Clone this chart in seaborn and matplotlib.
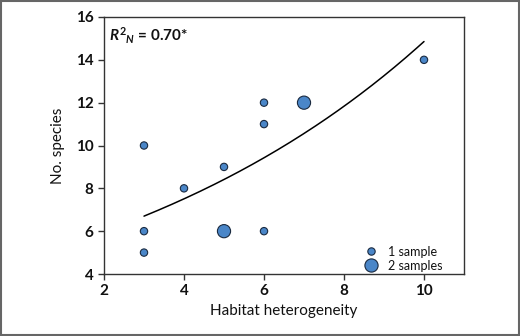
import numpy as np
import pandas as pd
import matplotlib
matplotlib.use("Agg")
import matplotlib.pyplot as plt
import seaborn as sns
from matplotlib.patches import Rectangle
from matplotlib.lines import Line2D

# data
heterogeneity = [3, 3, 3, 4, 5, 5, 6, 6, 6, 7, 10]
species = [10, 6, 5, 8, 9, 6, 12, 11, 6, 12, 14]
n_samples = [1, 1, 1, 1, 1, 2, 1, 1, 1, 2, 1]
# fitted curve (exponential) parameters
curve_a = 4.765
curve_b = 0.1137
curve_x = [3, 10]

sns.set_theme(style="white")
plt.rcParams['font.family'] = ['Lato', 'DejaVu Sans']
plt.rcParams['mathtext.fontset'] = 'custom'
plt.rcParams['mathtext.it'] = 'Lato:italic:bold'
plt.rcParams['mathtext.rm'] = 'Lato:bold'
plt.rcParams['text.color'] = '#111111'
plt.rcParams['axes.labelcolor'] = '#111111'
plt.rcParams['xtick.color'] = '#111111'
plt.rcParams['ytick.color'] = '#111111'

df = pd.DataFrame({"x": heterogeneity, "y": species, "n": n_samples})

fig = plt.figure(figsize=(5.2, 3.36), dpi=100)
ax = fig.add_axes([104/520, 1-274/336, 360/520, 257/336])

xs = np.linspace(curve_x[0], curve_x[1], 200)
ax.plot(xs, curve_a*np.exp(curve_b*xs), color="black", lw=1.1, zorder=1)

sns.scatterplot(data=df, x="x", y="y", size="n", sizes={1: 28, 2: 90},
                color="#4a86c8", edgecolor="#1a2a40", linewidth=0.8,
                legend=False, ax=ax, zorder=3)

ax.set_xlim(2, 11)
ax.set_ylim(4, 16)
ax.set_xticks([2, 4, 6, 8, 10])
ax.set_yticks([4, 6, 8, 10, 12, 14, 16])
for s in ax.spines.values():
    s.set_color("#333333")
    s.set_linewidth(1.0)
ax.tick_params(axis="both", which="both", direction="out", length=4, width=1,
               color="#333333", labelsize=11, bottom=True, left=True, top=False, right=False)
for lab in ax.get_xticklabels() + ax.get_yticklabels():
    lab.set_fontweight("bold")
ax.set_xlabel("Habitat heterogeneity", fontsize=11, labelpad=4)
ax.set_ylabel("No. species", fontsize=11, labelpad=8)

ax.text(0.015, 0.965, r"$R^{2}{}_{N}$ = 0.70*", transform=ax.transAxes,
        ha="left", va="top", fontsize=11, fontweight="bold")

h1 = Line2D([], [], ls="none", marker="o", markersize=5.3, markerfacecolor="#4a86c8",
            markeredgecolor="#1a2a40", markeredgewidth=0.8)
h2 = Line2D([], [], ls="none", marker="o", markersize=9.5, markerfacecolor="#4a86c8",
            markeredgecolor="#1a2a40", markeredgewidth=0.8)
ax.legend([h1, h2], ["1 sample", "2 samples"], loc="lower right", frameon=False,
          fontsize=9, handlelength=0.8, handletextpad=1.0, labelspacing=0.15,
          borderaxespad=0.0, bbox_to_anchor=(0.955, -0.01))

fig.patches.append(Rectangle((0.002, 0.003), 0.996, 0.994, transform=fig.transFigure,
                             fill=False, edgecolor="#666666", lw=1.5))

fig.savefig("out.png", dpi=100)
